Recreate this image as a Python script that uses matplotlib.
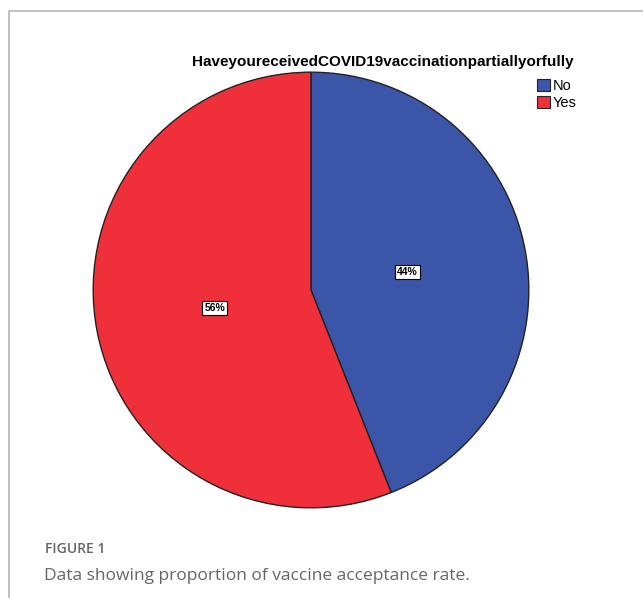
import matplotlib.pyplot as plt
from matplotlib.patches import Rectangle

labels = ['No', 'Yes']
shares = [44, 56]
colors = ['#3b55a8', '#ef303b']
title = 'HaveyoureceivedCOVID19vaccinationpartiallyorfully'

W, H = 643, 598
fig = plt.figure(figsize=(W / 100, H / 100), dpi=100)
fig.patch.set_facecolor('white')

# panel border (top and left edges visible)
fig.add_artist(Rectangle((9 / W, -0.1), 1.2, (H - 11) / H + 0.1, transform=fig.transFigure,
                         fill=False, edgecolor='#b5b5b5', linewidth=1.2))

ax = fig.add_axes([91 / W, (H - 510) / H, 440 / W, 440 / H])
wedges, texts, autotexts = ax.pie(
    shares, colors=colors, startangle=90, counterclock=False,
    autopct='%d%%', pctdistance=0.45, radius=1,
    wedgeprops=dict(edgecolor='#222222', linewidth=1.0),
    textprops=dict(fontsize=7.5, family='Liberation Sans', fontweight='bold'))
for t in autotexts:
    t.set_bbox(dict(facecolor='white', edgecolor='black', linewidth=0.8, pad=1.5))
ax.set_xlim(-1.01, 1.01)
ax.set_ylim(-1.01, 1.01)
ax.set_aspect('equal')
ax.axis('off')

fig.text(383 / W, 1 - 62 / H, title, ha='center', va='center',
         fontsize=11, family='Liberation Sans', fontweight='bold')

leg = fig.legend(wedges, labels, loc='upper left', bbox_to_anchor=(527 / W, 1 - 69 / H),
                 frameon=False, prop=dict(family='Liberation Sans', size=10.5),
                 handlelength=0.9, handleheight=0.9, handletextpad=0.15,
                 labelspacing=0.2, borderpad=0.2)
for h in leg.legend_handles:
    h.set_edgecolor('#222222')
    h.set_linewidth(0.8)

fig.text(45 / W, 1 - 549 / H, 'FIGURE 1', ha='left', va='center',
         fontsize=10, family='Open Sans', fontweight='semibold', color='#666666')
fig.text(44 / W, 1 - 576 / H, 'Data showing proportion of vaccine acceptance rate.',
         ha='left', va='center', fontsize=12.5, family='Open Sans', color='#666666')

fig.savefig('out.png', dpi=100)
